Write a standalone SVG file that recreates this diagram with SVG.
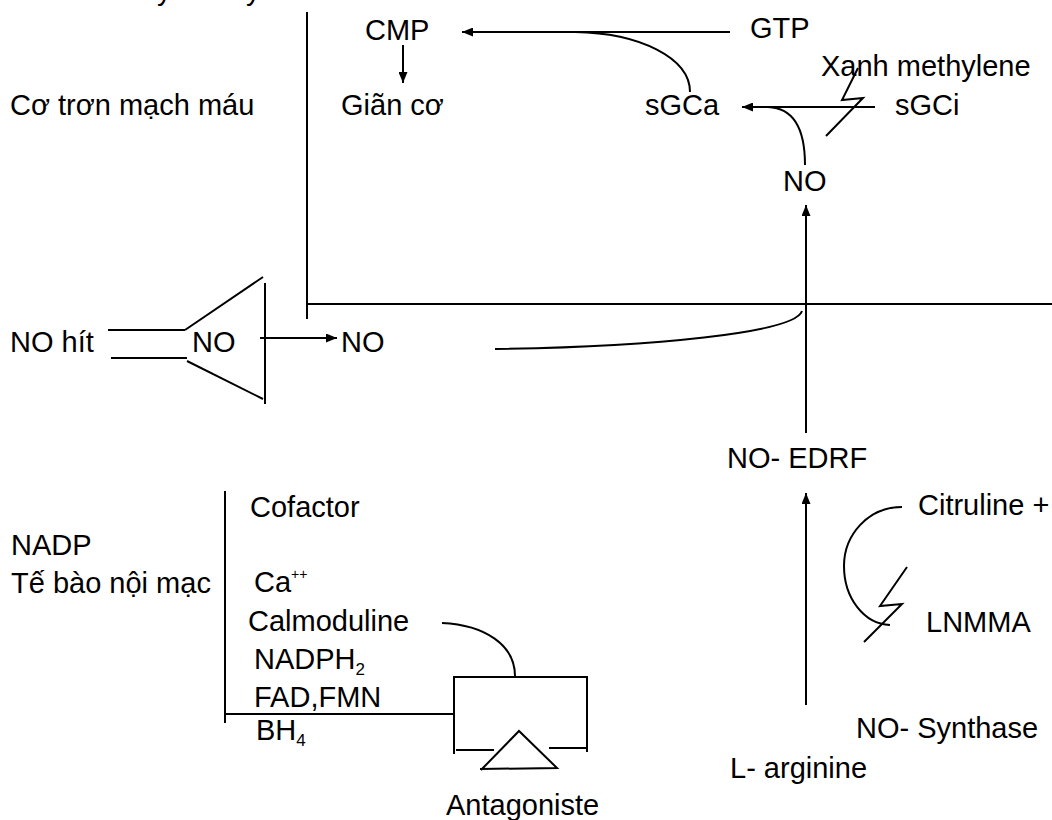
<svg xmlns="http://www.w3.org/2000/svg" width="1052" height="820" viewBox="0 0 1052 820">
<defs>
<style>
text{font-family:"Liberation Sans",Arial,sans-serif;font-size:29px;fill:#000}
.s{font-size:17px}
.sup{font-size:14px}
line,polyline,path.l{stroke:#000;stroke-width:2;fill:none}
</style>
<marker id="ah" markerUnits="userSpaceOnUse" markerWidth="12" markerHeight="9" refX="11" refY="4.5" orient="auto">
<path d="M0,0 L11,4.5 L0,9 z" fill="#000"/>
</marker>
</defs>
<rect width="1052" height="820" fill="#fff"/>
<g id="title-fragment"><text x="157" y="0">y</text><text x="246" y="0">y</text></g>
<g id="frame">
<line x1="307" y1="12" x2="307" y2="319"/>
<line x1="307" y1="304" x2="1052" y2="304"/>
</g>
<g id="smooth-muscle"><text x="10" y="115">Cơ trơn mạch máu</text></g>
<g id="cmp"><text x="365" y="40">CMP</text></g>
<g id="gian-co"><text x="341" y="115">Giãn cơ</text></g>
<g id="gtp"><text x="750" y="38">GTP</text></g>
<g id="sgca"><text x="645" y="115">sGCa</text></g>
<g id="sgci"><text x="895" y="115">sGCi</text></g>
<g id="xanh"><text x="821" y="76">Xanh methylene</text></g>
<g id="no-top"><text x="783" y="191">NO</text></g>
<g id="no-hit"><text x="10" y="352">NO hít</text></g>
<g id="inhaler">
<line x1="108" y1="330" x2="185" y2="330"/>
<line x1="111" y1="358" x2="187" y2="358"/>
<line x1="185" y1="330" x2="263" y2="277"/>
<line x1="187" y1="361" x2="263" y2="399"/>
<line x1="265" y1="283" x2="265" y2="404"/>
<text x="192" y="352">NO</text>
</g>
<g id="no-mid"><text x="341" y="352">NO</text></g>
<g id="no-edrf"><text x="727" y="468">NO- EDRF</text></g>
<g id="citruline"><text x="918" y="515">Citruline +</text></g>
<g id="lnmma"><text x="926" y="632">LNMMA</text></g>
<g id="no-synthase"><text x="856" y="738">NO- Synthase</text></g>
<g id="l-arginine"><text x="730" y="778">L- arginine</text></g>
<g id="endothelium">
<text x="11" y="555">NADP</text>
<text x="11" y="593">Tế bào nội mạc</text>
<line x1="225" y1="491" x2="225" y2="723"/>
</g>
<g id="cofactors">
<text x="250" y="517">Cofactor</text>
<text x="254" y="592">Ca<tspan class="sup" dy="-13">++</tspan></text>
<text x="248" y="631">Calmoduline</text>
<text x="254" y="669">NADPH<tspan class="s" dy="6">2</tspan></text>
<text x="254" y="707">FAD,FMN</text>
<text x="256" y="740">BH<tspan class="s" dy="6">4</tspan></text>
</g>
<g id="antagoniste">
<line x1="454" y1="677" x2="587" y2="677"/>
<line x1="454" y1="676" x2="454" y2="754"/>
<line x1="587" y1="676" x2="587" y2="752"/>
<line x1="456" y1="750" x2="494" y2="750"/>
<line x1="549" y1="748" x2="587" y2="748"/>
<polyline points="481,770 519,731 557,768 480,769"/>
<text x="446" y="815">Antagoniste</text>
</g>
<g id="connectors">
<line x1="403" y1="45" x2="403" y2="83" marker-end="url(#ah)"/>
<line x1="730" y1="32" x2="462" y2="32" marker-end="url(#ah)"/>
<path class="l" d="M575,32 C640,33 690,58 690,92"/>
<line x1="875" y1="107" x2="742" y2="107" marker-end="url(#ah)"/>
<polyline points="858,68 842,100 863,98 826,136"/>
<path class="l" d="M805,165 C805,132 795,108 768,107"/>
<line x1="806" y1="433" x2="806" y2="205" marker-end="url(#ah)"/>
<line x1="260" y1="338" x2="337" y2="338" marker-end="url(#ah)"/>
<path class="l" d="M495,349 C650,347 795,333 802,311"/>
<line x1="806" y1="705" x2="806" y2="493" marker-end="url(#ah)"/>
<path class="l" d="M902,507 C868,507 844,535 844,566 C844,598 864,624 890,625"/>
<polyline points="907,567 880,606 902,604 864,642"/>
<line x1="225" y1="714" x2="454" y2="714"/>
<path class="l" d="M442,623 C485,625 515,645 515,676"/>
</g>
</svg>
